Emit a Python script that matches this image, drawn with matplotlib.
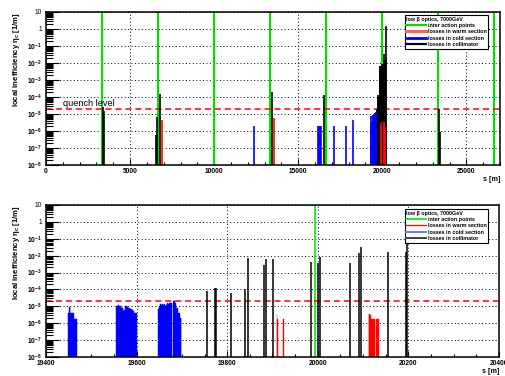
import numpy as np
import matplotlib
matplotlib.use("Agg")
import matplotlib.pyplot as plt
from matplotlib.lines import Line2D
from matplotlib.ticker import LogLocator, MultipleLocator, NullFormatter

plt.rcParams['font.family'] = ['Liberation Sans', 'DejaVu Sans']
plt.rcParams['mathtext.fontset'] = 'custom'
plt.rcParams['mathtext.rm'] = 'Liberation Sans'
plt.rcParams['mathtext.bf'] = 'Liberation Sans:bold'
plt.rcParams['mathtext.it'] = 'Liberation Sans:italic'

# interaction points [m]
ip_s = [3332, 6664, 9997, 13329, 16661, 19994, 23326, 26658]
quench_level = 2e-5

# losses in collimators
coll_s = [3410, 3460, 6530, 6600, 6780, 13470, 16510,
          19756, 19773, 19775, 19808, 19839, 19846, 19881, 19885, 19901,
          19985, 20000, 20004, 20070, 20091, 20095, 20154, 20194, 20197,
          23380, 23430]
coll_eta = [2.5e-5, 1.5e-5, 6e-7, 6.5e-6, 1.5e-4, 2e-4, 1.3e-4,
            8.5e-5, 1.3e-4, 1.2e-4, 6.5e-5, 1.1e-4, 7e-3, 2.8e-3, 6.3e-3, 6.5e-3,
            4.3e-3, 3.9e-3, 8.7e-3, 3.9e-3, 1.5e-2, 3.4e-2, 1.6e-2, 1.7e-2, 1.5,
            2e-5, 9e-7]

# losses in warm sections
warm_s = [6880, 13530, 19910, 19912, 19925,
          20113, 20115, 20117, 20119, 20121, 20123, 20125, 20129, 20131, 20133, 20135]
warm_eta = [4.5e-6, 6e-6, 3.5e-6, 1.8e-6, 1.8e-6,
            3.6e-6, 3.6e-6, 3.2e-6, 1.8e-6, 1.8e-6, 1.8e-6, 1.8e-6, 1.8e-6, 1.8e-6, 1.8e-6, 1.8e-6]

# losses in cold sections
cold_s = [12380, 16190, 16250, 16310, 16360, 17140, 17860, 18250, 19300, 19350,
          19449, 19451, 19453, 19455, 19457, 19459, 19461, 19463, 19465, 19467,
          19556, 19558, 19560, 19562, 19564, 19566, 19568, 19570, 19572, 19574,
          19576, 19578, 19580, 19582, 19584, 19586, 19588, 19590, 19592, 19594,
          19596, 19598, 19600,
          19648, 19650, 19652, 19654, 19656, 19658, 19660, 19662, 19664, 19666,
          19668, 19670, 19672, 19674, 19676, 19678, 19682, 19684, 19686, 19688,
          19690, 19692, 19694, 19696, 19698]
cold_eta = [2e-6, 2e-6, 2e-6, 2e-6, 2e-6, 2e-6, 2e-6, 4.5e-6, 3.5e-6, 8e-6,
            4e-6, 9e-6, 9e-6, 4e-6, 4e-6, 4e-6, 4e-6, 1.8e-6, 1.8e-6, 1.8e-6,
            1e-5, 1.1e-5, 1.2e-5, 1e-5, 1.1e-5, 8e-6, 8e-6, 7e-6, 5e-6, 6e-6,
            1.1e-5, 1e-5, 9e-6, 8e-6, 8e-6, 7e-6, 7e-6, 6e-6, 5e-6, 5e-6,
            4e-6, 4e-6, 4e-6,
            7e-6, 1.1e-5, 1.3e-5, 1.2e-5, 1.4e-5, 1.3e-5, 1.2e-5, 1.4e-5, 1.1e-5, 1.2e-5,
            1.5e-5, 1.4e-5, 1.5e-5, 1.6e-5, 1.4e-5, 1.5e-5, 2e-5, 2.1e-5, 1.5e-5, 8e-6,
            8e-6, 4e-6, 4e-6, 2e-6, 2e-6]

ytick_vals = [1e-8, 1e-7, 1e-6, 1e-5, 1e-4, 1e-3, 1e-2, 1e-1, 1, 10]
ytick_labels = [r'$\mathbf{10^{-8}}$', r'$\mathbf{10^{-7}}$', r'$\mathbf{10^{-6}}$',
                r'$\mathbf{10^{-5}}$', r'$\mathbf{10^{-4}}$', r'$\mathbf{10^{-3}}$',
                r'$\mathbf{10^{-2}}$', r'$\mathbf{10^{-1}}$', '1', '10']

legend_title = 'low β optics, 7000GeV'
legend_labels = ['inter action points', 'losses in warm section',
                 'losses in cold section', 'losses in collimator']

ymin = 1e-8

fig = plt.figure(figsize=(5.05, 3.76), dpi=100)
ax1 = fig.add_axes([0.0911, 0.5612, 0.899, 0.4069])
ax2 = fig.add_axes([0.0911, 0.0505, 0.897, 0.4043])


def style_axes(ax):
    ax.set_yscale('log')
    ax.set_ylim(ymin, 10)
    ax.set_yticks(ytick_vals)
    ax.set_yticklabels(ytick_labels)
    ax.yaxis.set_minor_locator(LogLocator(base=10, subs=np.arange(2, 10), numticks=100))
    ax.yaxis.set_minor_formatter(NullFormatter())
    ax.tick_params(axis='both', which='both', direction='in', width=0.8)
    ax.tick_params(axis='y', which='major', length=9.5, labelsize=4.8, pad=3)
    ax.tick_params(axis='y', which='minor', length=5)
    ax.tick_params(axis='x', which='major', length=4, labelsize=4.8, pad=2)
    ax.tick_params(axis='x', which='minor', length=2.2)
    for lab in ax.get_xticklabels():
        lab.set_fontweight('bold')
    ax.grid(True, which='major', color='black', linestyle=(0, (1, 2.5)), linewidth=0.7)
    ax.set_axisbelow(True)
    for sp in ax.spines.values():
        sp.set_linewidth(1.1)
    ax.set_ylabel('local inefficiency η$_\\mathbf{c}$ [1/m]', loc='top',
                  fontsize=5.6, fontweight='bold', labelpad=3.5)
    ax.set_xlabel('s [m]', loc='right', fontsize=5.2, fontweight='bold', labelpad=1)
    ax.axhline(quench_level, color='red', linestyle=(0, (4, 2.5)), linewidth=1.1, zorder=1.5)


def add_legend(ax, handles, anchor):
    leg = ax.legend(handles, legend_labels, title=legend_title, loc='upper right',
                    bbox_to_anchor=anchor, borderaxespad=0,
                    prop={'size': 3.9, 'weight': 'bold'}, title_fontsize=3.9,
                    alignment='left', frameon=True, fancybox=False, framealpha=1,
                    edgecolor='black', handlelength=3.6, handletextpad=0.35,
                    labelspacing=0.25, borderpad=0.3)
    leg.get_frame().set_linewidth(0.8)
    leg.get_title().set_fontweight('bold')
    return leg


# ---- top: full ring ----
ax1.set_xlim(0, 27000)
ax1.xaxis.set_major_locator(MultipleLocator(5000))
ax1.xaxis.set_minor_locator(MultipleLocator(1000))
for s in ip_s:
    ax1.axvline(s, color='#00e000', linewidth=1.5, zorder=1)
ax1.vlines(cold_s, ymin, cold_eta, color='#0000ff', linewidth=1.2, zorder=2)
ax1.vlines(coll_s, ymin, coll_eta, color='black', linewidth=1.2, zorder=2.2)
ax1.vlines(warm_s, ymin, warm_eta, color='#ff0000', linewidth=1.2, zorder=2.4)
style_axes(ax1)
ax1.text(1010, 3e-5, 'quench level', fontsize=6.6, va='baseline', ha='left')

h1 = [Line2D([], [], color='#00e000', lw=1.5),
      Line2D([], [], color='#ff6060', lw=2.2),
      Line2D([], [], color='#0000ff', lw=2.0),
      Line2D([], [], color='black', lw=1.6)]
add_legend(ax1, h1, (0.974, 0.98))

# ---- bottom: zoom around IR7 ----
ax2.set_xlim(19400, 20400)
ax2.xaxis.set_major_locator(MultipleLocator(200))
ax2.xaxis.set_minor_locator(MultipleLocator(50))
for s in ip_s:
    ax2.axvline(s, color='#00e000', linewidth=1.1, zorder=1)
ax2.bar(cold_s, np.array(cold_eta) - ymin, width=2.0, bottom=ymin, color='#0000ff',
        edgecolor='#0000ff', linewidth=0.3, zorder=2)
ax2.bar(warm_s, np.array(warm_eta) - ymin, width=2.0, bottom=ymin, color='#ff0000',
        edgecolor='#ff0000', linewidth=0.3, zorder=2.4)
ax2.vlines(coll_s, ymin, coll_eta, color='black', linewidth=1.1, zorder=2.2)
style_axes(ax2)

h2 = [Line2D([], [], color='#00e000', lw=1.2),
      Line2D([], [], color='#ff0000', lw=0.9),
      Line2D([], [], color='#7070ff', lw=1.4),
      Line2D([], [], color='#404040', lw=1.4)]
add_legend(ax2, h2, (0.976, 0.974))

fig.savefig('out.png', dpi=100)
